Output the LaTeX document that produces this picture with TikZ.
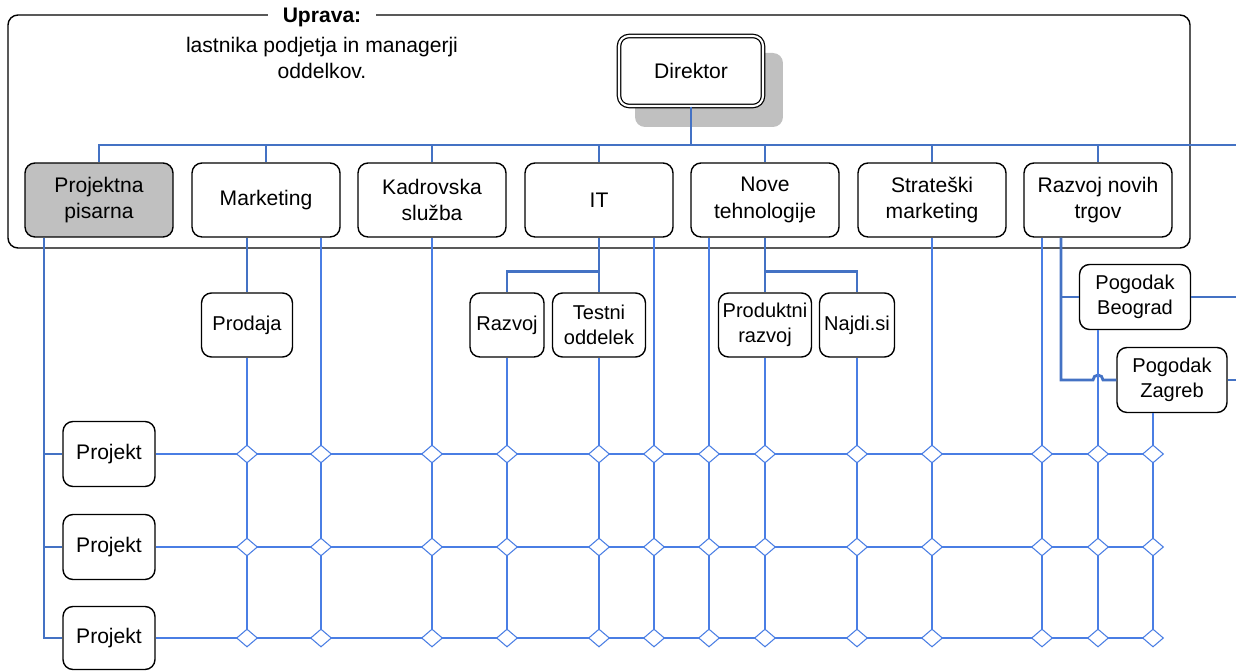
\documentclass[tikz,border=0pt]{standalone}
\usepackage{fontspec}
\setmainfont{Liberation Sans}
\usetikzlibrary{calc,shapes.geometric}
\definecolor{orgblue}{RGB}{68,114,196}
\definecolor{gridblue}{RGB}{74,126,228}
\definecolor{boxgray}{RGB}{192,192,192}

\tikzset{
  unit/.style={draw, line width=0.8pt, rounded corners=0.2cm, fill=white, align=center, inner sep=1pt, minimum width=2.96cm, minimum height=1.48cm},
  subunit/.style={unit, minimum height=1.28cm, font=\fontsize{11.4}{14.2}\selectfont},
  orgline/.style={draw=orgblue, line width=1.6pt},
  gridline/.style={draw=gridblue, line width=0.6pt},
  junction/.style={shape=diamond, draw=gridblue, fill=white, line width=0.6pt, inner sep=0pt, minimum width=0.42cm, minimum height=0.36cm}
}

\begin{document}
\begin{tikzpicture}[x=0.02cm, y=-0.02cm, every node/.style={font=\fontsize{12}{15.3}\selectfont}]
		\useasboundingbox (0,0) rectangle (1236,671);
		%%%%% START %%%%%
		
		\draw[line width=0.8pt, rounded corners=0.2cm] (8,15) rectangle (1190,248);
		\node[fill=white, inner xsep=0.3cm, inner ysep=0pt, font=\fontsize{12}{15.3}\selectfont\bfseries] (uprava) at (322,17) {Uprava:};
		\node[align=center] (uprtext) at (322,58) {lastnika podjetja in managerji\\oddelkov.};
		
		\node[unit, draw=none, fill=boxgray] (dirshadow) at (709,90) {};
		\node[unit, double, double distance=1.2pt, line width=0.7pt, minimum width=2.88cm, minimum height=1.40cm] (dir) at (691,71) {Direktor};
		
		\node[unit, fill=boxgray] (pp) at (99,200) {Projektna\\pisarna};
		\node[unit] (mkt) at (266,200) {Marketing};
		\node[unit] (kad) at (432,200) {Kadrovska\\služba};
		\node[unit] (it) at (599,200) {IT};
		\node[unit] (nt) at (765,200) {Nove\\tehnologije};
		\node[unit] (sm) at (932,200) {Strateški\\marketing};
		\node[unit] (rnt) at (1098,200) {Razvoj novih\\trgov};
		
		\node[subunit, minimum width=1.82cm] (prod) at (247,325) {Prodaja};
		\node[subunit, minimum width=1.48cm] (razv) at (507,325) {Razvoj};
		\node[subunit, minimum width=1.86cm] (test) at (599,325) {Testni\\oddelek};
		\node[subunit, minimum width=1.86cm] (prr) at (765,325) {Produktni\\razvoj};
		\node[subunit, minimum width=1.50cm] (najdi) at (857,325) {Najdi.si};
		\node[subunit, minimum width=2.22cm, minimum height=1.30cm] (beo) at (1135,297) {Pogodak\\Beograd};
		\node[subunit, minimum width=2.20cm, minimum height=1.30cm] (zag) at (1172,380) {Pogodak\\Zagreb};
		
		\node[unit, minimum width=1.84cm, minimum height=1.30cm] (p1) at (109,454) {Projekt};
		\node[unit, minimum width=1.84cm, minimum height=1.30cm] (p2) at (109,547) {Projekt};
		\node[unit, minimum width=1.84cm, minimum height=1.26cm] (p3) at (109,638) {Projekt};
		
		% hierarchy
		\coordinate (busend) at (1236,145);
		\draw[orgline] (dir.south) -- (dir.south |- busend);
		\draw[orgline] (pp.north) |- (busend);
		\foreach \d in {mkt,kad,it,nt,sm,rnt}
			\draw[orgline] (\d.north) -- (\d.north |- busend);
		
		\coordinate (ppdrop) at (44,638);
		\draw[orgline] (pp.south -| ppdrop) -- (ppdrop) -- (p3.west);
		\draw[orgline] (p1.west -| ppdrop) -- (p1.west);
		\draw[orgline] (p2.west -| ppdrop) -- (p2.west);
		
		\draw[orgline] (mkt.south -| prod.north) -- (prod.north);
		\draw[orgline] (it.south) -- (test.north -| it.south);
		\draw[orgline] (razv.north) |- ($(it.south)+(0,34)$);
		\draw[orgline] (nt.south) -- (prr.north -| nt.south);
		\draw[orgline] (najdi.north) |- ($(nt.south)+(0,34)$);
		
		% grid
		\foreach \c/\x in {1/247,2/321,3/432,4/507,5/599,6/654,7/709,8/765,9/857,10/932,11/1042,12/1098,13/1153}
			\foreach \r/\y in {1/454,2/547,3/638}
				\coordinate (j\r-\c) at (\x,\y);
		
		\coordinate (rntdrop) at (1061,380);
		\draw[orgline] (rnt.south -| rntdrop) -- (rntdrop) -- ($(j1-12 |- zag.west)+(-5,0)$) arc (180:0:0.1cm) -- (zag.west);
		\draw[orgline] (beo.west -| rntdrop) -- (beo.west);
		\coordinate (beoout) at (1236,297);
		\coordinate (zagout) at (1236,380);
		\draw[orgline] (beo.east) -- (beoout);
		\draw[orgline] (zag.east) -- (zagout);
		
		\foreach \s/\c in {prod/1,mkt/2,kad/3,razv/4,test/5,it/6,nt/7,prr/8,najdi/9,sm/10,rnt/11,beo/12,zag/13}
			\draw[gridline] (\s.south -| j3-\c) -- (j3-\c);
		\foreach \r in {1,2,3}
			\draw[gridline] (p\r.east) -- (j\r-13);
		\foreach \r in {1,2,3}
			\foreach \c in {1,...,13}
				\node[junction] (d\r-\c) at (j\r-\c) {};
		
		%%%%% END %%%%%
	\end{tikzpicture}
\end{document}
